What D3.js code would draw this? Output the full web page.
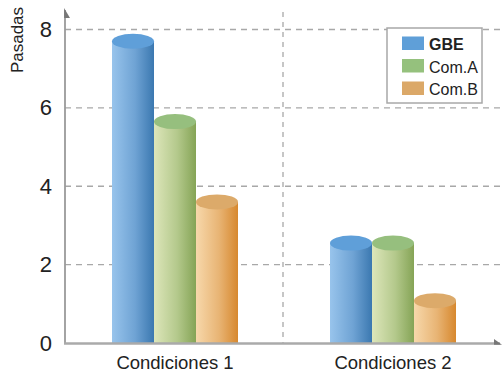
<!DOCTYPE html>
<html>
<head>
<meta charset="utf-8">
<script src="https://cdn.jsdelivr.net/npm/d3@7"></script>
<style>
  html, body { margin: 0; padding: 0; background: #fff; }
  svg { display: block; font-family: "Liberation Sans", Arial, Helvetica, sans-serif; }
</style>
</head>
<body>
<svg id="chart" width="502" height="376"></svg>
<script>
// Passes per condition for each compound
const categories = ["Condiciones 1", "Condiciones 2"];
const seriesNames = ["GBE", "Com.A", "Com.B"];
const gbeValues = [7.7, 2.55];
const comAValues = [5.65, 2.55];
const comBValues = [3.6, 1.08];
const yTicks = [0, 2, 4, 6, 8];
const yLabel = "Pasadas";

const seriesValues = [gbeValues, comAValues, comBValues];

// Cylinder shading per series: light left edge, dark right edge, cap colour
const palette = [
  { light: "#98c4ec", mid: "#6fa3d4", dark: "#3b78b0", cap: "#5f9fd9", swatch: "#5f9fd8" },
  { light: "#dde6ba", mid: "#b4c98c", dark: "#85a456", cap: "#96bf7e", swatch: "#95c17d" },
  { light: "#f7d8ab", mid: "#e8b474", dark: "#d7882e", cap: "#dcaa6a", swatch: "#dba868" }
];

const svg = d3.select("#chart");
const plot = { left: 65, right: 500, top: 12, bottom: 343 };

const x0 = d3.scaleBand().domain(categories).range([66, 502]).padding(0);
const y = d3.scaleLinear().domain([0, 8]).range([plot.bottom, 29.5]);
const barW = 42;
const x1 = d3.scaleBand().domain(seriesNames).range([0, barW * 3]).padding(0);
const capRy = 7.5;

// Gradients
const defs = svg.append("defs");
palette.forEach((p, i) => {
  const g = defs.append("linearGradient").attr("id", "grad" + i)
    .attr("x1", "0%").attr("x2", "100%").attr("y1", "0%").attr("y2", "0%");
  g.append("stop").attr("offset", "0%").attr("stop-color", p.light);
  g.append("stop").attr("offset", "55%").attr("stop-color", p.mid);
  g.append("stop").attr("offset", "100%").attr("stop-color", p.dark);
});

// Horizontal grid lines
svg.append("g").selectAll("line")
  .data(yTicks.filter(d => d > 0))
  .join("line")
  .attr("x1", plot.left).attr("x2", plot.right)
  .attr("y1", d => y(d)).attr("y2", d => y(d))
  .attr("stroke", "#a8a8a8").attr("stroke-width", 1.3)
  .attr("stroke-dasharray", "6,5");

// Vertical separator between conditions
svg.append("line")
  .attr("x1", x0(categories[1]) - 1).attr("x2", x0(categories[1]) - 1)
  .attr("y1", plot.top).attr("y2", plot.bottom)
  .attr("stroke", "#a8a8a8").attr("stroke-width", 1.3)
  .attr("stroke-dasharray", "5,5");

// Cylinders
const groups = svg.append("g").selectAll("g")
  .data(categories)
  .join("g")
  .attr("transform", (c) => `translate(${x0(c) + x0.bandwidth() / 2 - barW * 1.5},0)`);

groups.each(function (c, ci) {
  const g = d3.select(this);
  seriesNames.forEach((s, si) => {
    const v = seriesValues[si][ci];
    const bx = x1(s);
    const w = x1.bandwidth();
    g.append("rect")
      .attr("x", bx).attr("y", y(v))
      .attr("width", w).attr("height", y(0) - y(v))
      .attr("fill", `url(#grad${si})`);
    g.append("ellipse")
      .attr("cx", bx + w / 2).attr("cy", y(v))
      .attr("rx", w / 2).attr("ry", capRy)
      .attr("fill", palette[si].cap);
  });
});

// Axes lines with half arrowheads
svg.append("line")
  .attr("x1", plot.left).attr("x2", plot.left)
  .attr("y1", plot.bottom + 1).attr("y2", 10)
  .attr("stroke", "#9a9a9a").attr("stroke-width", 1.8);
svg.append("path")
  .attr("d", `M${plot.left - 0.9},8 L${plot.left + 5},18 L${plot.left - 0.9},18 Z`)
  .attr("fill", "#777");

svg.append("line")
  .attr("x1", plot.left - 1).attr("x2", 500)
  .attr("y1", plot.bottom + 0.5).attr("y2", plot.bottom + 0.5)
  .attr("stroke", "#aaaaaa").attr("stroke-width", 2.4);
svg.append("path")
  .attr("d", `M494,${plot.bottom + 1.7} L494,${plot.bottom - 4} L502,${plot.bottom + 1.7} Z`)
  .attr("fill", "#777");

// Y tick labels
svg.append("g").selectAll("text")
  .data(yTicks)
  .join("text")
  .attr("x", 52).attr("y", d => y(d))
  .attr("text-anchor", "end").attr("dominant-baseline", "central")
  .attr("font-size", 22).attr("fill", "#222")
  .text(d => d);

// Y axis title
svg.append("text")
  .attr("transform", "translate(22.5,40) rotate(-90)")
  .attr("text-anchor", "middle")
  .attr("font-size", 17).attr("fill", "#222")
  .text(yLabel);

// X category labels
svg.append("g").selectAll("text")
  .data(categories)
  .join("text")
  .attr("x", c => x0(c) + x0.bandwidth() / 2)
  .attr("y", 369)
  .attr("text-anchor", "middle")
  .attr("font-size", 18.5).attr("fill", "#222")
  .text(c => c);

// Legend
const legend = svg.append("g").attr("transform", "translate(387,28)");
legend.append("rect")
  .attr("width", 95).attr("height", 75)
  .attr("fill", "#fff").attr("stroke", "#a8a8a8").attr("stroke-width", 1.5);
seriesNames.forEach((s, i) => {
  const row = legend.append("g").attr("transform", `translate(15,${8.5 + i * 22.5})`);
  row.append("rect").attr("width", 22).attr("height", 13.5).attr("fill", palette[i].swatch);
  row.append("text")
    .attr("x", 27).attr("y", 13.5)
    .attr("font-size", 16).attr("fill", "#222")
    .attr("font-weight", i === 0 ? "bold" : "normal")
    .text(s);
});
</script>
</body>
</html>
